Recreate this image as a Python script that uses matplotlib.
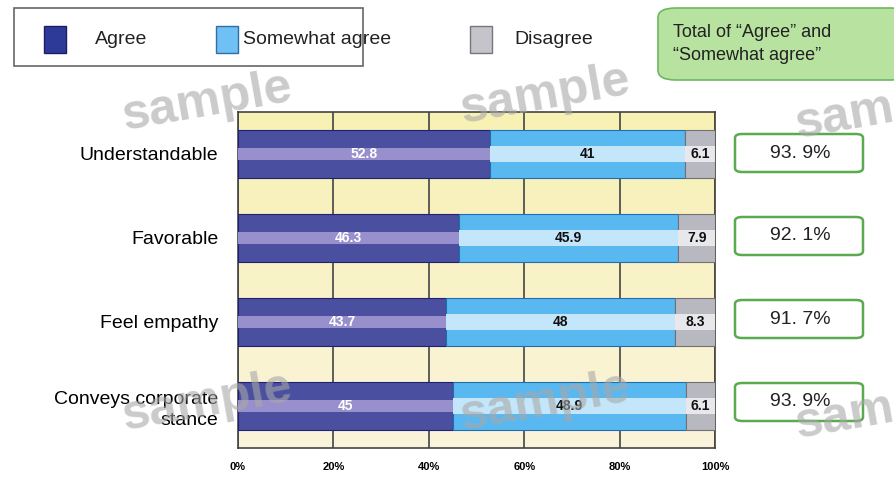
import matplotlib.pyplot as plt
import numpy as np
from matplotlib.patches import FancyBboxPatch, Rectangle
from matplotlib.colors import LinearSegmentedColormap

# data
categories = ['Understandable', 'Favorable', 'Feel empathy', 'Conveys corporate\nstance']
agree = [52.8, 46.3, 43.7, 45]
somewhat = [41, 45.9, 48, 48.9]
disagree = [6.1, 7.9, 8.3, 6.1]
totals = ['93. 9%', '92. 1%', '91. 7%', '93. 9%']
ticks = [0, 20, 40, 60, 80, 100]
tick_labels = ['0%', '20%', '40%', '60%', '80%', '100%']

plt.rcParams['font.family'] = ['Liberation Sans', 'DejaVu Sans']

fig = plt.figure(figsize=(8.94, 4.8), dpi=100)
ax = fig.add_axes([0.2662, 0.0667, 0.5336, 0.70])

# background gradient, yellow at top fading to cream
grad = np.linspace(0, 1, 256).reshape(-1, 1)
bg = LinearSegmentedColormap.from_list('bg', ['#f7f1b4', '#fbf4dc'])
ax.imshow(grad, extent=[0, 100, 3.5, -0.5], aspect='auto', cmap=bg, zorder=0)

y = np.arange(len(categories))
h = 0.56
left2 = np.array(agree)
left3 = left2 + np.array(somewhat)

ax.barh(y, agree, height=h, color='#4a4fa0', edgecolor='#1e2270', lw=0.8, zorder=3)
ax.barh(y, agree, height=h * 0.25, color='#9890cc', lw=0, zorder=3.5)
ax.barh(y, somewhat, left=left2, height=h, color='#5ab8f0', edgecolor='#1f6fb0', lw=0.8, zorder=3)
ax.barh(y, somewhat, left=left2, height=h * 0.35, color='#c4e6fb', lw=0, zorder=3.5)
ax.barh(y, disagree, left=left3, height=h, color='#b8b8c0', edgecolor='#707078', lw=0.8, zorder=3)
ax.barh(y, disagree, left=left3, height=h * 0.35, color='#e8e8ec', lw=0, zorder=3.5)

for i in range(len(categories)):
    ax.text(agree[i] / 2, y[i], f'{agree[i]:g}', color='white', ha='center', va='center',
            fontsize=10, fontweight='bold', zorder=5)
    ax.text(left2[i] + somewhat[i] / 2, y[i], f'{somewhat[i]:g}', color='#111111', ha='center',
            va='center', fontsize=10, fontweight='bold', zorder=5)
    ax.text(left3[i] + disagree[i] / 2, y[i], f'{disagree[i]:g}', color='#111111', ha='center',
            va='center', fontsize=10, fontweight='bold', zorder=5)

ax.set_xlim(0, 100)
ax.set_ylim(3.5, -0.5)
ax.set_xticks(ticks)
ax.set_xticklabels(tick_labels, fontsize=8, fontweight='bold')
ax.set_yticks(y)
ax.set_yticklabels(categories, fontsize=14, linespacing=1.3)
ax.tick_params(axis='both', length=0)
ax.tick_params(axis='x', pad=10)
ax.tick_params(axis='y', pad=14)
ax.grid(axis='x', color='#444444', lw=1.2, zorder=1)
for s in ax.spines.values():
    s.set_color('#444444')
    s.set_linewidth(1.2)

# right-hand total boxes
for i, t in enumerate(totals):
    yc = 1 - (153 + i * 83) / 480
    box = FancyBboxPatch((735 / 894, yc - 19 / 480), 128 / 894, 38 / 480,
                         boxstyle='round,pad=0,rounding_size=0.008', transform=fig.transFigure,
                         facecolor='white', edgecolor='#5aaa50', lw=1.8)
    fig.patches.append(box)
    fig.text(800 / 894, yc, t, ha='center', va='center', fontsize=14, color='#222222')

# legend box
lg = Rectangle((14 / 894, 1 - 66 / 480), 349 / 894, 58 / 480, transform=fig.transFigure,
               facecolor='white', edgecolor='#666666', lw=1.2)
fig.patches.append(lg)
items = [('Agree', '#2e3a98', '#1a2060', 44, 95), ('Somewhat agree', '#6ec0f5', '#3070a0', 216, 243),
         ('Disagree', '#c4c4ca', '#777777', 470, 514)]
for name, fc, ec, sx, tx in items:
    fig.patches.append(Rectangle((sx / 894, 1 - 53 / 480), 22 / 894, 27 / 480, transform=fig.transFigure,
                                 facecolor=fc, edgecolor=ec, lw=1))
    fig.text(tx / 894, 1 - 40 / 480, name, ha='left', va='center', fontsize=14, color='#222222')

# green note box
gb = FancyBboxPatch((658 / 894, 1 - 80 / 480), 250 / 894, 72 / 480,
                    boxstyle='round,pad=0,rounding_size=0.02', transform=fig.transFigure,
                    facecolor='#b8e2a0', edgecolor='#6cb860', lw=1.2, clip_on=False)
fig.patches.append(gb)
fig.text(673 / 894, 1 - 44 / 480, 'Total of \u201cAgree\u201d and\n\u201cSomewhat agree\u201d', ha='left',
         va='center', fontsize=13, color='#222222', linespacing=1.4)

# watermarks
for wx, wy in [(207, 102), (545, 95), (880, 110), (207, 402), (545, 402), (880, 410)]:
    fig.text(wx / 894, 1 - wy / 480, 'sample', ha='center', va='center', fontsize=36,
             fontweight='bold', color='#a8a8a8', alpha=0.6, rotation=10, zorder=10)

fig.savefig('out.png', dpi=100)
